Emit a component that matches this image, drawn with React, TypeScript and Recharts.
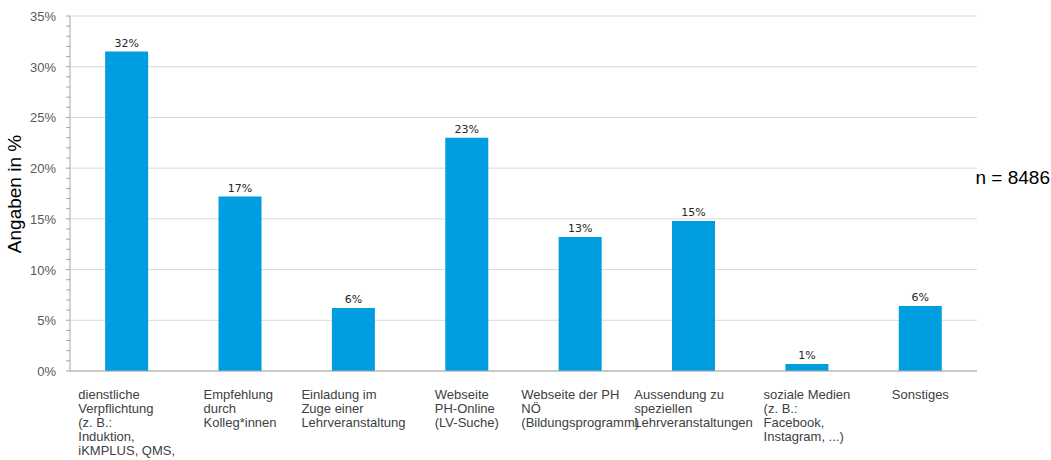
import React from "react";
import { Bar, BarChart, CartesianGrid, LabelList, XAxis, YAxis } from "recharts";

// Kategorien (mehrzeilig wie im Original umbrochen)
const categoryLines = [
  ["dienstliche", "Verpflichtung", "(z. B.:", "Induktion,", "iKMPLUS, QMS,"],
  ["Empfehlung", "durch", "Kolleg*innen"],
  ["Einladung im", "Zuge einer", "Lehrveranstaltung"],
  ["Webseite", "PH-Online", "(LV-Suche)"],
  ["Webseite der PH", "NÖ", "(Bildungsprogramm)"],
  ["Aussendung zu", "speziellen", "Lehrveranstaltungen"],
  ["soziale Medien", "(z. B.:", "Facebook,", "Instagram, ...)"],
  ["Sonstiges"],
];

// Anteile in %
const shares = [31.5, 17.2, 6.2, 23.0, 13.2, 14.8, 0.7, 6.4];
const shareLabels = ["32%", "17%", "6%", "23%", "13%", "15%", "1%", "6%"];

const yMajorTicks = [0, 5, 10, 15, 20, 25, 30, 35];
const yAllTicks = Array.from({ length: 36 }, (_, i) => i);

const data = categoryLines.map((lines, i) => ({
  name: lines.join(" "),
  value: shares[i],
  label: shareLabels[i],
}));

const LABEL_FONT = "13px 'Liberation Sans'";
let ctx: CanvasRenderingContext2D | null = null;
function textWidth(s: string) {
  if (!ctx) ctx = document.createElement("canvas").getContext("2d");
  if (!ctx) return s.length * 6.5;
  ctx.font = LABEL_FONT;
  return ctx.measureText(s).width;
}

function XTick(props: any) {
  const { x, y, index } = props;
  const lines = categoryLines[index] || [];
  const w = Math.max(...lines.map(textWidth));
  const left = x - w / 2;
  return (
    <text
      x={left}
      y={y + 28}
      fill="#404040"
      fontSize={13}
      fontFamily="Liberation Sans"
      textAnchor="start"
    >
      {lines.map((l, i) => (
        <tspan key={i} x={left} dy={i === 0 ? 0 : 14}>
          {l}
        </tspan>
      ))}
    </text>
  );
}

function YTick(props: any) {
  const { x, y, payload } = props;
  if (payload.value % 5 !== 0) return null;
  return (
    <text
      x={x - 8}
      y={y + 5}
      fill="#595959"
      fontSize={13}
      fontFamily="Liberation Sans"
      textAnchor="end"
    >
      {payload.value}%
    </text>
  );
}

export default function App() {
  return (
    <div style={{ position: "absolute", left: 0, top: 0, width: 1051, height: 460, background: "#fff" }}>
      <BarChart
        width={1051}
        height={460}
        data={data}
        margin={{ top: 16, right: 74, bottom: 0, left: 0 }}
        barCategoryGap="31%"
      >
        <CartesianGrid
          vertical={false}
          stroke="#d9d9d9"
          horizontalValues={yMajorTicks}
        />
        <XAxis
          dataKey="name"
          height={89}
          interval={0}
          tickLine={false}
          tickSize={0}
          tickMargin={0}
          axisLine={{ stroke: "#a6a6a6" }}
          tick={<XTick />}
        />
        <YAxis
          width={70}
          domain={[0, 35]}
          ticks={yAllTicks}
          interval={0}
          tickSize={4}
          tickLine={{ stroke: "#a6a6a6" }}
          axisLine={{ stroke: "#a6a6a6" }}
          tick={<YTick />}
        />
        <Bar dataKey="value" fill="#009ee0" isAnimationActive={false}>
          <LabelList
            dataKey="label"
            position="top"
            offset={5}
            fill="#262626"
            fontSize={11}
            fontFamily="DejaVu Sans"
          />
        </Bar>
        <text
          x={14}
          y={194}
          transform="rotate(-90 14 194)"
          textAnchor="middle"
          dominantBaseline="central"
          fontSize={19}
          fontFamily="Liberation Sans"
          fill="#000"
        >
          Angaben in %
        </text>
        <text x={1050} y={184} textAnchor="end" fontSize={19} fontFamily="Liberation Sans" fill="#000">
          n = 8486
        </text>
      </BarChart>
    </div>
  );
}
